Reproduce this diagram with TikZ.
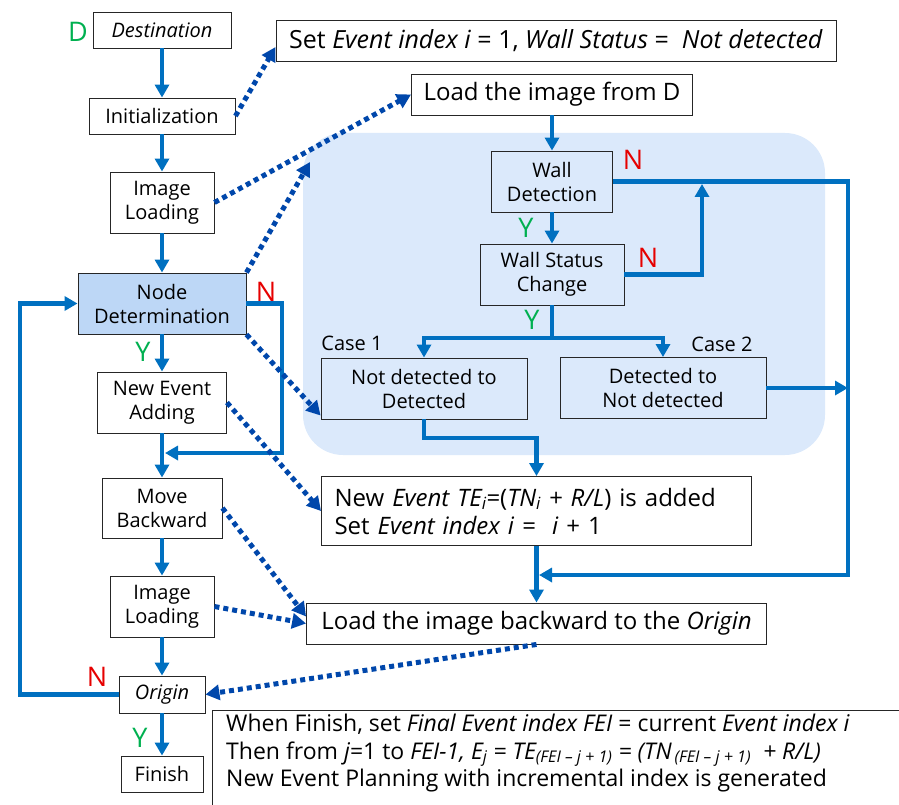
\documentclass[tikz,border=0pt]{standalone}
\usepackage{fontspec}
\setmainfont{Open Sans}
\usetikzlibrary{arrows.meta,calc}
\definecolor{sb}{RGB}{0,112,192}
\definecolor{db}{RGB}{0,71,171}
\definecolor{rfill}{RGB}{219,233,251}
\definecolor{ndfill}{RGB}{189,215,246}
\definecolor{nred}{RGB}{230,0,0}
\definecolor{ygreen}{RGB}{0,176,80}
\tikzset{
 box/.style={draw=black!85, line width=0.9pt, fill=white, align=center, inner sep=0pt, font=\fontsize{20}{24}\selectfont},
 bigbox/.style={box, font=\fontsize{24}{28}\selectfont},
 sarrow/.style={draw=sb, line width=4.5pt, -{Triangle[length=13pt,width=14pt]}},
 sline/.style={draw=sb, line width=4.5pt},
 darrow/.style={draw=db, line width=5pt, dash pattern=on 5pt off 4pt, -{Triangle[length=14pt,width=15pt]}},
 lbl/.style={font=\fontsize{27}{28}\selectfont, inner sep=0pt},
 caselbl/.style={font=\fontsize{20}{22}\selectfont, inner sep=0pt},
}
\begin{document}
\begin{tikzpicture}[x=1pt,y=-1pt]
\useasboundingbox (0,0) rectangle (899,805);
% region
\node[fill=rfill, rounded corners=40pt, minimum width=522, minimum height=322, inner sep=0] (region) at (564,294) {};
% left column
\node[box, minimum width=138, minimum height=36] (dest) at (162,30) {\textit{Destination}};
\node[box, minimum width=146, minimum height=36] (init) at (162,116) {Initialization};
\node[box, minimum width=104, minimum height=61] (img1) at (162,202.5) {Image\\Loading};
\node[box, fill=ndfill, minimum width=168, minimum height=61] (nd) at (162,303.5) {Node\\Determination};
\node[box, minimum width=129, minimum height=61] (nea) at (162,402.5) {New Event\\Adding};
\node[box, minimum width=120, minimum height=60] (mb) at (162,508) {Move\\Backward};
\node[box, minimum width=104, minimum height=61] (img2) at (162,606.5) {Image\\Loading};
\node[box, minimum width=86, minimum height=37] (orig) at (162,694.5) {\textit{Origin}};
\node[box, minimum width=82, minimum height=36] (fin) at (162,774) {Finish};
% right
\node[bigbox, font=\fontsize{25}{28}\selectfont, minimum width=560, minimum height=41] (set) at (556,40.5) {Set \textit{Event index i} = 1, \textit{Wall Status} = \ \textit{Not detected}};
\node[bigbox, minimum width=281, minimum height=41] (load) at (552,94.5) {Load the image from D};
\node[box, fill=rfill, minimum width=121, minimum height=61] (wd) at (552,181.5) {Wall\\Detection};
\node[box, fill=rfill, minimum width=144, minimum height=61] (wsc) at (552,274.5) {Wall Status\\Change};
\node[box, fill=rfill, minimum width=206, minimum height=61] (c1) at (424,388.5) {Not detected to\\Detected};
\node[box, fill=rfill, minimum width=206, minimum height=61] (c2) at (663,388) {Detected to\\Not detected};
\node[bigbox, align=left, text width=404, minimum width=430, minimum height=69] (ne) at (536.5,511) {New \textit{Event TE\textsubscript{i}}=(\textit{TN\textsubscript{i} + R/L}) is added\\Set \textit{Event index i} = \ \textit{i} + 1};
\node[bigbox, minimum width=460, minimum height=41] (lb) at (536.5,623.5) {Load the image backward to the \textit{Origin}};
% labels
\node[lbl, text=ygreen] (dl) at (78,32) {D};
\node[lbl, text=nred] (n1) at (266,292) {N};
\node[lbl, text=ygreen] (y1) at (143,352) {Y};
\node[lbl, text=nred] (n2) at (97,677) {N};
\node[lbl, text=ygreen] (y2) at (140,738) {Y};
\node[lbl, text=nred] (n3) at (633,160) {N};
\node[lbl, text=ygreen] (y3) at (526,228) {Y};
\node[lbl, text=nred] (n4) at (648,258) {N};
\node[lbl, text=ygreen] (y4) at (532,320) {Y};
\node[caselbl] (case1) at (352,343) {Case 1};
\node[caselbl] (case2) at (722,344) {Case 2};
% bottom text
\node[anchor=north west, align=left, inner sep=0, font=\fontsize{23}{27.5}\selectfont] (ftext) at (226,714)
 {When Finish, set \textit{Final Event index FEI} = current \textit{Event index i}\\
  Then from \textit{j}=1 to \textit{FEI-1, E\textsubscript{j} = TE\textsubscript{(FEI – j + 1)} = (TN\textsubscript{\,(FEI – j + 1)}\ \ + R/L)}\\
  New Event Planning with incremental index is generated};
\draw[black!85, line width=0.9pt] (900,710) -| (212,806);
% solid connectors
\draw[sarrow] (dest) -- (init);
\draw[sarrow] (init) -- (img1);
\draw[sarrow] (img1) -- (nd);
\draw[sarrow] (nd) -- (nea);
\draw[sarrow] (nea) -- (mb);
\draw[sarrow] (mb) -- (img2);
\draw[sarrow] (img2) -- (orig);
\draw[sarrow] (orig) -- (fin);
\coordinate (m1) at (165,453);
\draw[sarrow] (nd.east) -| (282,453) -- (m1);
\draw[sarrow] (orig.west) -- (20,694.5) |- (nd.west);
\draw[sarrow] (load) -- (wd);
\draw[sarrow] (wd) -- (wsc);
\coordinate (m2) at (539,575);
\draw[sarrow] (wd.east) -| (848,575) -- (m2);
\coordinate (m3) at (702,184);
\draw[sarrow] (wsc.east) -| (m3);
\coordinate (split) at (552,338);
\draw[sline] (wsc.south) -- (split);
\draw[sarrow] (split) -| (c1.north);
\draw[sarrow] (split) -| (c2.north);
\coordinate (m4) at (848,388);
\draw[sarrow] (c2.east) -- (m4);
\draw[sarrow] (c1.south) -- ++(0,18.5) -| (ne.north);
\draw[sarrow] (ne) -- (lb);
% dotted connectors
\coordinate (rc) at (310,162);
\draw[darrow] (init.east) -- ([yshift=-6.5pt]set.west);
\draw[darrow] (img1.east) -- (load.west);
\draw[darrow] (nd.north east) -- (rc);
\draw[darrow] (nd.south east) -- ([yshift=-27pt]c1.west);
\draw[darrow] (nea.east) -- (ne.west);
\draw[darrow] (mb.east) -- ([yshift=7pt]lb.west);
\draw[darrow] (img2.east) -- (lb.west);
\draw[darrow] (lb.south) -- (orig.east);
\end{tikzpicture}
\end{document}
